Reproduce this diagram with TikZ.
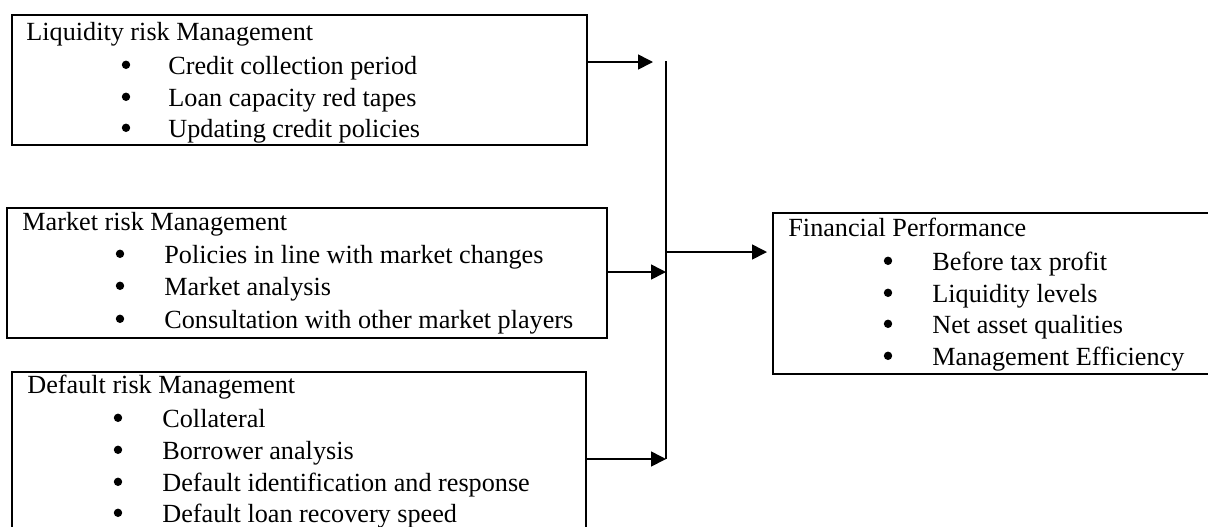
\documentclass[tikz,border=0pt]{standalone}
\usepackage{fontspec}
\setmainfont{Liberation Serif}
\usetikzlibrary{arrows.meta,fit}
\begin{document}
\begin{tikzpicture}[x=0.5pt,y=-0.5pt,
 box/.style={draw,line width=1.2pt,rectangle,inner sep=0pt},
 txt/.style={anchor=base west,inner sep=0pt,font=\fontsize{13.1}{15}\selectfont},
 bul/.style={circle,fill,inner sep=0pt,minimum size=4.2pt,yshift=4.6pt},
 arr/.style={line width=0.8pt,-{Triangle[length=7.5pt,width=7.5pt]}},
 conn/.style={line width=1pt}]
\useasboundingbox (0,0) rectangle (1208,526);
% boxes
\node[box,fit={(12,15) (587,145)}] (b1) {};
\node[box,fit={(7,208) (607,338)}] (b2) {};
\node[box,fit={(12,372) (586,545)}] (b3) {};
\node[box,fit={(773,213) (1225,374)}] (b4) {};
% box 1 texts
\node[txt] (t1) at (26,40) {Liquidity risk Management};
\node[bul] (b1d1) at (126,74) {};
\node[txt] (t11) at (168,74) {Credit collection period};
\node[bul] (b1d2) at (126,106) {};
\node[txt] (t12) at (168,106) {Loan capacity red tapes};
\node[bul] (b1d3) at (126,137) {};
\node[txt] (t13) at (168,137) {Updating credit policies};
% box 2 texts
\node[txt] (t2) at (22,230) {Market risk Management};
\node[bul] (b2d1) at (120,263) {};
\node[txt] (t21) at (164,263) {Policies in line with market changes};
\node[bul] (b2d2) at (120,295) {};
\node[txt] (t22) at (164,295) {Market analysis};
\node[bul] (b2d3) at (120,328) {};
\node[txt] (t23) at (164,328) {Consultation with other market players};
% box 3 texts
\node[txt] (t3) at (27,393) {Default risk Management};
\node[bul] (b3d1) at (118,427) {};
\node[txt] (t31) at (162,427) {Collateral};
\node[bul] (b3d2) at (118,459) {};
\node[txt] (t32) at (162,459) {Borrower analysis};
\node[bul] (b3d3) at (118,491) {};
\node[txt] (t33) at (162,491) {Default identification and response};
\node[bul] (b3d4) at (118,522) {};
\node[txt] (t34) at (162,522) {Default loan recovery speed};
% box 4 texts
\node[txt] (t4) at (788,236) {Financial Performance};
\node[bul] (b4d1) at (888,270) {};
\node[txt] (t41) at (932,270) {Before tax profit};
\node[bul] (b4d2) at (888,302) {};
\node[txt] (t42) at (932,302) {Liquidity levels};
\node[bul] (b4d3) at (888,333) {};
\node[txt] (t43) at (932,333) {Net asset qualities};
\node[bul] (b4d4) at (888,365) {};
\node[txt] (t44) at (932,365) {Management Efficiency};
% connectors
\coordinate (vtop) at (666,61);
\coordinate (vbot) at (666,459);
\coordinate (a1tip) at (653,62);
\coordinate (a2tip) at (666,272);
\coordinate (a4tip) at (767,252);
\draw[conn] (vtop) -- (vbot);
\draw[arr] (b1.east |- a1tip) -- (a1tip);
\draw[arr] (b2.east |- a2tip) -- (a2tip);
\draw[arr] (b3.east |- vbot) -- (vbot);
\draw[arr] (vtop |- a4tip) -- (a4tip);
\end{tikzpicture}
\end{document}
